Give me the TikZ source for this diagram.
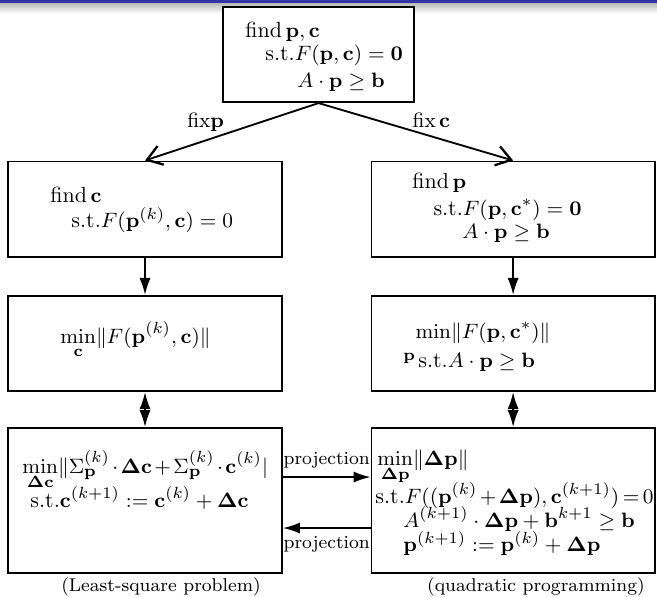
\documentclass[tikz,border=0pt]{standalone}
\usepackage{amsmath, amssymb}
\usepackage{tikz}
\usetikzlibrary{arrows, arrows.meta, positioning, calc}
\definecolor{barblue}{RGB}{50,50,165}

\begin{document}
\begin{tikzpicture}[
    box/.style={draw, thick, minimum height=1.45cm, inner sep=0pt, fill=white},
    lbox/.style={box, minimum width=4.17cm},
    rbox/.style={box, minimum width=4.31cm},
    txt/.style={anchor=west, inner sep=0pt, font=\fontsize{9.5pt}{11pt}\selectfont},
    lbl/.style={font=\footnotesize},
    arr/.style={thick, -{Latex[length=2.6mm, width=1.7mm]}},
    darr/.style={thick, {Latex[length=2.6mm, width=1.7mm]}-{Latex[length=2.6mm, width=1.7mm]}},
    fixarr/.style={thick, -{Straight Barb[length=2.2mm, width=3mm, line width=1pt]}}]
        \useasboundingbox (0,0) rectangle (10,9.072);

        % Kopfleiste
        \fill[barblue] (0,9.026) rectangle (10,9.072);
        \shade[top color=gray!55, bottom color=white] (0,8.87) rectangle (10,9.026);

        % Kaesten
        \node[box, minimum width=2.91cm] (top) at (4.848,8.242) {};
        \node[lbox] (lc) at (2.207,5.89) {};
        \node[rbox] (rp) at (7.81,5.89) {};
        \node[lbox] (lmin) at (2.207,3.843) {};
        \node[rbox] (rmin) at (7.81,3.843) {};
        \node[lbox, minimum height=2.207cm] (lls) at (2.207,1.454) {};
        \node[rbox, minimum height=2.207cm] (rqp) at (7.81,1.454) {};

        % Text oben
        \node[txt] (t1) at (3.729,8.584) {find\,$\mathbf{p},\mathbf{c}$};
        \node[txt] (t2) at (4.033,8.234) {s.t.$F(\mathbf{p},\mathbf{c})=\mathbf{0}$};
        \node[txt] (t3) at (4.521,7.823) {$A\cdot\mathbf{p}\geq\mathbf{b}$};

        % links: c suchen
        \node[txt] (lc1) at (0.761,6.104) {find\,$\mathbf{c}$};
        \node[txt] (lc2) at (1.081,5.723) {s.t.$F(\mathbf{p}^{(k)},\mathbf{c})=0$};

        % rechts: p suchen
        \node[txt] (rp1) at (6.271,6.286) {find\,$\mathbf{p}$};
        \node[txt] (rp2) at (6.591,5.875) {s.t.$F(\mathbf{p},\mathbf{c}^*)=\mathbf{0}$};
        \node[txt] (rp3) at (7.032,5.525) {$A\cdot\mathbf{p}\geq\mathbf{b}$};

        % Minimierung
        \node[txt] (lm1) at (0.913,3.896) {$\displaystyle\min_{\mathbf{c}}\!\|F(\mathbf{p}^{(k)},\mathbf{c})\|$};
        \node[txt] (rm1) at (6.317,4.003) {$\min\!\|F(\mathbf{p},\mathbf{c}^*)\|$};
        \node[txt] (rm2) at (6.134,3.615) {$\scriptstyle\mathbf{p}$};
        \node[txt] (rm3) at (6.362,3.562) {s.t.$A\cdot\mathbf{p}\geq\mathbf{b}$};

        % Least-square
        \node[txt] (ls1) at (0.335,1.918) {$\medmuskip=2mu\displaystyle\min_{\mathbf{\Delta c}}\!\|\Sigma^{(k)}_{\mathbf{p}}\cdot\mathbf{\Delta c}+\Sigma^{(k)}_{\mathbf{p}}\cdot\mathbf{c}^{(k)}|$};
        \node[txt] (ls2) at (0.457,1.492) {s.t.$\mathbf{c}^{(k+1)}:=\mathbf{c}^{(k)}+\mathbf{\Delta c}$};

        % quadratische Programmierung
        \node[txt] (qp1) at (5.738,1.96) {$\displaystyle\min_{\mathbf{\Delta p}}\!\|\mathbf{\Delta p}\|$};
        \node[txt] (qp2) at (5.708,1.53) {s.t.$\medmuskip=2mu\thickmuskip=3mu F((\mathbf{p}^{(k)}+\mathbf{\Delta p}),\mathbf{c}^{(k+1)})=0$};
        \node[txt] (qp3) at (6.134,1.17) {$A^{(k+1)}\cdot\mathbf{\Delta p}+\mathbf{b}^{k+1}\geq\mathbf{b}$};
        \node[txt] (qp4) at (6.134,0.80) {$\mathbf{p}^{(k+1)}:=\mathbf{p}^{(k)}+\mathbf{\Delta p}$};

        % Pfeile
        \draw[fixarr] (top.south) -- node[font=\small, above, pos=0.65] (fixp) {fix$\mathbf{p}$} (lc.north);
        \draw[fixarr] (top.south) -- node[font=\small, above, pos=0.58] (fixc) {fix\,$\mathbf{c}$} (rp.north);
        \draw[arr] (lc) -- (lmin);
        \draw[arr] (rp) -- (rmin);
        \draw[darr] (lmin) -- (lls);
        \draw[darr] (rmin) -- (rqp);

        % Projektion
        \coordinate (pu) at (0,1.811);
        \coordinate (pd) at (0,1.035);
        \draw[arr] (lls.east |- pu) -- node[lbl, above] (proj1) {projection} (rqp.west |- pu);
        \draw[arr] (rqp.west |- pd) -- node[lbl, below] (proj2) {projection} (lls.east |- pd);

        % Unterschriften
        \node[lbl] (capl) at (2.451,0.137) {(Least-square problem)};
        \node[lbl] (capr) at (8.158,0.137) {(quadratic programming)};
\end{tikzpicture}
\end{document}
